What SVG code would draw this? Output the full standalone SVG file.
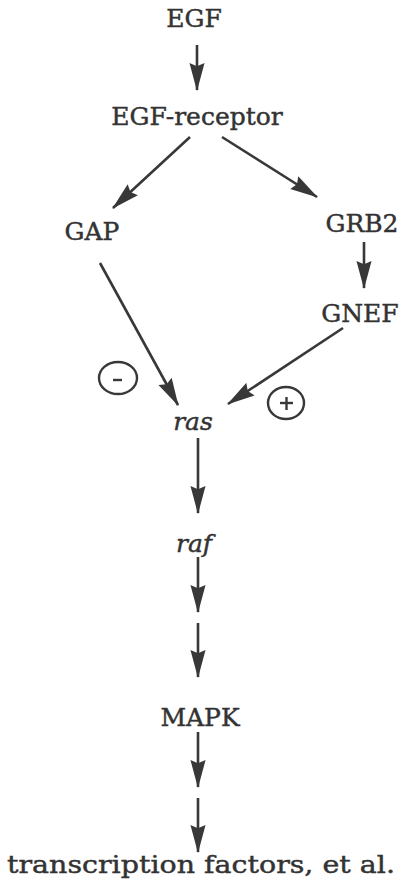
<svg xmlns="http://www.w3.org/2000/svg" width="403" height="885" viewBox="0 0 403 885">
<style>
  text{font-family:"DejaVu Serif","Liberation Serif",serif;font-size:25px;fill:#333;stroke:#333;stroke-width:0.45;text-anchor:middle}
  .it{font-style:italic}
  .edge{stroke:#383838;stroke-width:2.6;fill:none;marker-end:url(#ah)}
  .sign{stroke:#383838;stroke-width:2.4;fill:none}
</style>
<defs>
  <marker id="ah" markerUnits="userSpaceOnUse" markerWidth="28" markerHeight="16" viewBox="0 0 26 14" refX="25" refY="7" orient="auto">
    <path d="M0,0 L26,7 L0,14 L3,7 z" fill="#383838"/>
  </marker>
</defs>
<rect width="403" height="885" fill="#fff"/>
<g id="connectors">
  <line class="edge" x1="197" y1="45" x2="197" y2="90"/>
  <line class="edge" x1="190" y1="137" x2="113" y2="208"/>
  <line class="edge" x1="222" y1="137" x2="317" y2="197"/>
  <line class="edge" x1="364" y1="242" x2="364" y2="288"/>
  <line class="edge" x1="100" y1="263" x2="178" y2="405"/>
  <line class="edge" x1="343" y1="328" x2="228" y2="404"/>
  <line class="edge" x1="198" y1="438" x2="198" y2="513"/>
  <line class="edge" x1="198" y1="557" x2="198" y2="612"/>
  <line class="edge" x1="198" y1="623" x2="198" y2="677"/>
  <line class="edge" x1="198" y1="732" x2="198" y2="787"/>
  <line class="edge" x1="198" y1="798" x2="198" y2="852"/>
</g>
<g id="EGF"><text x="194" y="27">EGF</text></g>
<g id="EGF-receptor"><text x="197" y="125">EGF-receptor</text></g>
<g id="GAP"><text x="92" y="240">GAP</text></g>
<g id="GRB2"><text x="362" y="232">GRB2</text></g>
<g id="GNEF"><text x="360" y="322">GNEF</text></g>
<g id="minus">
  <ellipse class="sign" cx="118" cy="378" rx="19" ry="16"/>
  <line class="sign" x1="113" y1="380" x2="122" y2="380"/>
</g>
<g id="plus">
  <ellipse class="sign" cx="286" cy="403" rx="18" ry="16"/>
  <line class="sign" x1="280" y1="403" x2="293" y2="403"/>
  <line class="sign" x1="286.5" y1="397" x2="286.5" y2="410"/>
</g>
<g id="ras"><text class="it" x="193" y="430">ras</text></g>
<g id="raf"><text class="it" x="194" y="552">raf</text></g>
<g id="MAPK"><text x="200" y="726">MAPK</text></g>
<g id="transcription-factors"><text x="201" y="873" textLength="388" lengthAdjust="spacingAndGlyphs">transcription factors, et al.</text></g>
</svg>
